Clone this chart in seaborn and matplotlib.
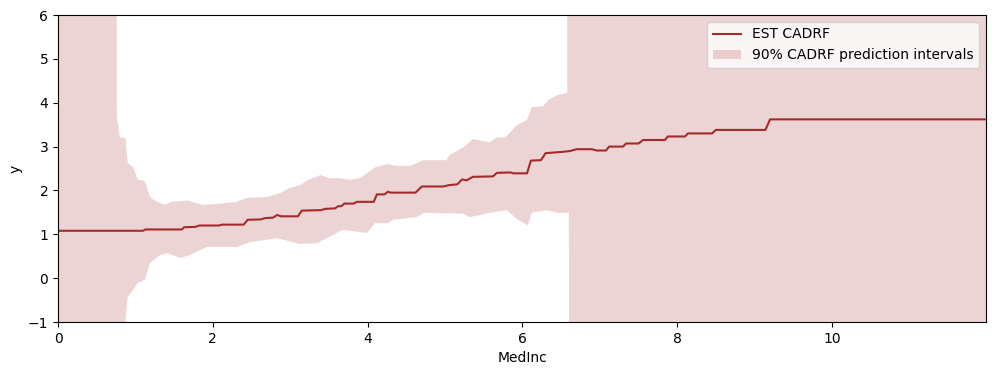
"""Estimated CADRF curve with its 90% prediction band over MedInc"""
import numpy as np
import matplotlib
matplotlib.use("Agg")
import matplotlib.pyplot as plt
import seaborn as sns

# estimated curve (step-like)
medinc_est = [0.00, 1.10, 1.13, 1.60, 1.63, 1.78, 1.82, 2.08, 2.12, 2.40,
              2.45, 2.62, 2.68, 2.78, 2.83, 2.88, 3.10, 3.15, 3.40, 3.45,
              3.58, 3.62, 3.66, 3.70, 3.82, 3.86, 4.08, 4.12, 4.22, 4.26,
              4.30, 4.62, 4.70, 4.98, 5.05, 5.16, 5.22, 5.28, 5.36, 5.62,
              5.67, 5.85, 5.88, 6.06, 6.11, 6.24, 6.30, 6.52, 6.62, 6.70,
              6.90, 6.96, 7.08, 7.12, 7.30, 7.34, 7.50, 7.56, 7.84, 7.88,
              8.10, 8.14, 8.45, 8.50, 9.14, 9.20, 11.99]
cadrf_est = [1.08, 1.08, 1.11, 1.11, 1.16, 1.17, 1.20, 1.20, 1.22, 1.22,
             1.33, 1.34, 1.37, 1.38, 1.44, 1.41, 1.41, 1.54, 1.55, 1.58,
             1.59, 1.64, 1.64, 1.70, 1.70, 1.74, 1.74, 1.91, 1.91, 1.97,
             1.95, 1.95, 2.09, 2.09, 2.12, 2.14, 2.25, 2.23, 2.31, 2.32,
             2.40, 2.41, 2.39, 2.39, 2.68, 2.69, 2.85, 2.88, 2.90, 2.94,
             2.94, 2.91, 2.91, 3.00, 3.00, 3.07, 3.07, 3.15, 3.15, 3.23,
             3.23, 3.30, 3.30, 3.38, 3.38, 3.62, 3.62]

# upper edge of the 90% interval (30 = off the top of the chart)
medinc_up = [0.00, 0.745, 0.76, 0.80, 0.87, 0.90, 0.97, 1.03, 1.12, 1.19,
             1.28, 1.38, 1.47, 1.67, 1.87, 2.05, 2.31, 2.44, 2.70, 2.87,
             3.00, 3.13, 3.23, 3.39, 3.51, 3.64, 3.77, 3.90, 4.10, 4.25,
             4.38, 4.55, 4.72, 5.02, 5.06, 5.23, 5.36, 5.58, 5.67, 5.78,
             5.93, 6.06, 6.12, 6.27, 6.33, 6.46, 6.58, 6.585, 11.99]
upper_90 = [30, 30, 3.68, 3.20, 3.20, 2.63, 2.53, 2.24, 2.22, 1.85,
            1.74, 1.67, 1.74, 1.77, 1.67, 1.69, 1.74, 1.83, 1.85, 1.94,
            2.06, 2.12, 2.24, 2.35, 2.28, 2.28, 2.24, 2.28, 2.53, 2.60,
            2.56, 2.56, 2.69, 2.69, 2.81, 2.97, 3.17, 3.10, 3.21, 3.21,
            3.49, 3.61, 3.90, 3.92, 4.06, 4.18, 4.22, 30, 30]

# lower edge of the 90% interval (-30 = off the bottom of the chart)
medinc_lo = [0.00, 0.84, 0.87, 0.90, 0.97, 1.03, 1.12, 1.19, 1.32, 1.41,
             1.58, 1.71, 1.92, 2.31, 2.48, 2.83, 3.13, 3.35, 3.68, 3.99,
             4.10, 4.25, 4.33, 4.64, 4.72, 5.23, 5.32, 5.58, 5.80, 5.94,
             6.07, 6.12, 6.31, 6.45, 6.60, 6.64, 11.99]
lower_90 = [-30, -30, -1.0, -0.43, -0.27, -0.11, -0.04, 0.35, 0.53, 0.57,
            0.46, 0.53, 0.71, 0.71, 0.82, 0.91, 0.78, 0.80, 1.10, 1.03,
            1.26, 1.25, 1.33, 1.39, 1.49, 1.47, 1.39, 1.49, 1.55, 1.33,
            1.21, 1.49, 1.55, 1.49, 1.49, -30, -30]

color = "brown"

fig, ax = plt.subplots(figsize=(9.97, 3.75), dpi=100)

# band as one polygon: upper edge left->right, lower edge right->left
band_x = np.concatenate([medinc_up, medinc_lo[::-1]])
band_y = np.concatenate([upper_90, lower_90[::-1]])
ax.fill(band_x, band_y, color=color, alpha=0.2, lw=0,
        label="90% CADRF prediction intervals")

sns.lineplot(x=medinc_est, y=cadrf_est, color=color, lw=1.5,
             label="EST CADRF", ax=ax)

ax.set_xlim(0, 11.99)
ax.set_ylim(-1, 6)
ax.set_xlabel("MedInc")
ax.set_ylabel("y")

# line entry first, like the original
handles, labels = ax.get_legend_handles_labels()
order = [labels.index("EST CADRF"), labels.index("90% CADRF prediction intervals")]
ax.legend([handles[i] for i in order], [labels[i] for i in order], loc="upper right")

fig.subplots_adjust(left=58 / 997, right=986 / 997, top=1 - 15 / 375, bottom=1 - 322 / 375)
plt.savefig("out.png", dpi=100)
